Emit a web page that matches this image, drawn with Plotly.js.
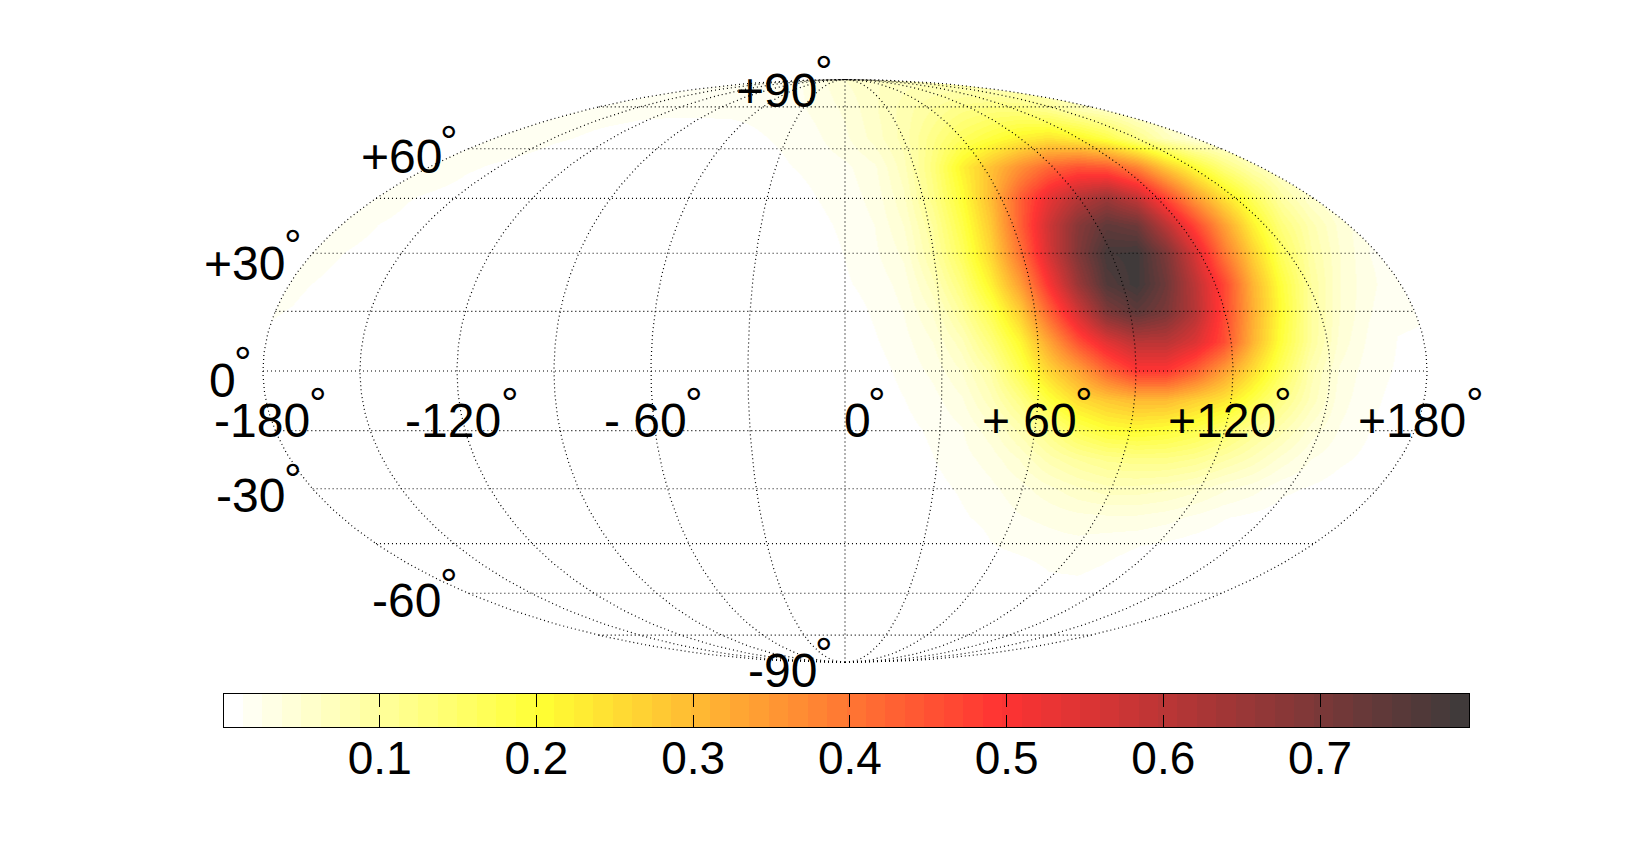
<!DOCTYPE html>
<html><head><meta charset="utf-8">
<script src="https://cdn.plot.ly/plotly-3.0.1.min.js"></script>
<style>html,body{margin:0;padding:0;background:#fff}#c{width:1634px;height:841px}</style>
</head><body><div id="c"></div>
<script>
const gridU = [-2,-1.9,-1.8,-1.7,-1.6,-1.5,-1.4,-1.3,-1.2,-1.1,-1,-.9,-.8,-.7,-.6,-.5,-.4,-.3,-.2,-.1,0,.1,.2,.3,.4,.5,.6,.7,.8,.9,1,1.1,1.2,1.3,1.4,1.5,1.6,1.7,1.8,1.9,2];
const gridV = [-1,-.9,-.8,-.7,-.6,-.5,-.4,-.3,-.2,-.1,0,.1,.2,.3,.4,.5,.6,.7,.8,.9,1];
const Z0 = [0,0,0,0,0,0,0,0,0,0,0,0,0,0,0,0,0,0,0,0];
const fieldWest = {
 "1":  [.018,.018,.018,.018,.018,.018,.018,.018,.018,.018,.018,.018,.018,.018,.018,.018,.018,.018,.02,.03],
 ".9": [.018,.018,.018,.018,.018,.018,.018,.018,.018,.018,.018,.018,.018,.016,.016,.016,.016,.016,.018,.028],
 ".8": [.02,.02,.02,.02,.02,.02,.02,.02,.02,.018,.014,.0115,.008,.006,.004,.004,.005,.011,.015,.022],
 ".7": [.025,.025,.025,.025,.025,.025,.02,.014,.011,.008,.005,.004,.003,.002,.002,.002,.003,.006,.0115,.016],
 ".6": [.025,.025,.025,.025,.02,.0135,.01,.007,.005,.003,.002,.001,.001,.001,.001,.001,.001,.002,.006,.0124],
 ".5": [.022,.022,.022,.018,.012,.008,.005,.003,.001,0,0,0,0,0,0,0,0,0,.003,.009],
 ".4": [.02,.02,.016,.011,.007,.004,.002,.001,0,0,0,0,0,0,0,0,0,0,.001,.006],
 ".3": [.017,.015,.011,.007,.004,.002,.001,0,0,0,0,0,0,0,0,0,0,0,0,.004],
 ".2": [.014,.0115,.007,.004,.002,.001,0,0,0,0,0,0,0,0,0,0,0,0,0,.001],
 ".1": [.011,.007,.004,.002,.001,0,0,0,0,0,0,0,0,0,0,0,0,0,0,0]
};
const fieldEast = {
 "1":  [.05,.06,.07,.07,.07,.06,.05,.04,.03,.03,.03,.02,.02,.02,.02,.02,.02,.02,.02,.02,.02],
 ".9": [.04,.06,.08,.10,.12,.13,.13,.11,.08,.06,.04,.03,.03,.02,.02,.02,.02,.02,.02,.02,.02],
 ".8": [.035,.055,.08,.12,.16,.19,.22,.24,.22,.18,.12,.07,.04,.03,.02,.02,.02,.02,.02,.02,.02],
 ".7": [.022,.035,.07,.13,.22,.29,.36,.42,.45,.44,.38,.28,.2,.13,.08,.05,.03,.02,.02,.02,.02],
 ".6": [.018,.03,.06,.12,.2,.3,.43,.53,.6,.64,.58,.46,.34,.24,.16,.09,.05,.03,.02,.02,.02],
 ".5": [.015,.025,.05,.1,.18,.28,.43,.57,.68,.74,.72,.6,.47,.34,.22,.13,.08,.045,.025,.02,.02],
 ".4": [.013,.022,.04,.09,.16,.26,.4,.56,.69,.78,.79,.7,.56,.4,.27,.16,.09,.05,.025,.018,.018],
 ".3": [.011,.017,.03,.07,.13,.22,.34,.5,.65,.76,.79,.72,.6,.47,.31,.19,.10,.05,.028,.017,.016],
 ".2": [.006,.014,.025,.05,.1,.17,.27,.42,.56,.69,.74,.7,.61,.47,.32,.2,.1,.05,.026,.014,.013],
 ".1": [.004,.011,.02,.037,.07,.13,.21,.33,.45,.54,.6,.6,.55,.46,.31,.19,.1,.045,.022,.012,.011],
 "0":  [.003,.007,.016,.028,.05,.09,.17,.26,.33,.42,.49,.49,.43,.34,.25,.16,.08,.035,.018,.011,.009],
 "-.1":[0,.005,.012,.02,.035,.07,.12,.19,.25,.28,.3,.3,.27,.24,.18,.12,.07,.03,.016,.008,.005],
 "-.2":[0,0,.009,.0145,.024,.045,.08,.12,.17,.2,.21,.2,.18,.15,.11,.08,.045,.024,.013,.005,.002],
 "-.3":[0,0,.006,.012,.02,.03,.05,.08,.1,.115,.12,.12,.11,.09,.07,.045,.025,.015,.009,.002,0],
 "-.4":[0,0,0,.008,.0145,.022,.032,.046,.06,.07,.07,.065,.055,.04,.03,.016,.011,.006,.002,0,0],
 "-.5":[0,0,0,0,.0105,.017,.024,.028,.033,.035,.035,.03,.022,.0135,.009,.005,.002,0,0,0,0],
 "-.6":[0,0,0,0,0,.0115,.016,.019,.02,.016,.0128,.009,.005,.002,0,0,0,0,0,0,0],
 "-.7":[0,0,0,0,0,0,.004,.0115,.0125,.0095,.005,.002,0,0,0,0,0,0,0,0,0],
 "-.8":[0,0,0,0,0,0,0,0,0,0,0,0,0,0,0,0,0,0,0,0,0],
 "-.9":[0,0,0,0,0,0,0,0,0,0,0,0,0,0,0,0,0,0,0,0,0],
 "-1": [0,0,0,0,0,0,0,0,0,0,0,0,0,0,0,0,0,0,0,0,0]
};
const rowKeys = ["-1","-.9","-.8","-.7","-.6","-.5","-.4","-.3","-.2","-.1","0",".1",".2",".3",".4",".5",".6",".7",".8",".9","1"];
const colorAnchors = [[0,[255,255,255]],[.25,[255,255,51]],[.625,[255,51,51]],[1,[64,58,58]]];
const nLevels = 64;
const zMin = 0.0003, zMax = 0.7953;
const barTicks = [.1,.2,.3,.4,.5,.6,.7];
const barTickText = ["0.1","0.2","0.3","0.4","0.5","0.6","0.7"];
const meridianLons = [-180,-150,-120,-90,-60,-30,0,30,60,90,120,150,180];
const parallelLats = [-75,-60,-45,-30,-15,0,15,30,45,60,75];
const latLabels = ["+90","+60","+30","0","-30","-60","-90"];
const lonLabels = ["-180","-120","- 60","0","+ 60","+120","+180"];
// label centres and ring centres in page pixels
const latLabelPx = [[776,90],[401,157],[244,263],[222,380],[250,496],[406,600],[782,670]];
const latRingPx  = [[824.3,71.8],[449,141.6],[292.8,245.8],[242.8,362.5],[292.8,479.2],[449,584.5],[824.3,653.2]];
const lonLabelPx = [[262,420],[453.5,420],[645,420],[857,420],[1029.5,420],[1222,420],[1412,420]];
const lonRingPx  = [[317.8,403.2],[509.6,403.2],[694,403.2],[877.4,403.2],[1083.7,403.2],[1282.8,403.2],[1474.5,403.2]];

const W=1634,H=841,CX=845,CY=371,SX=291,SY=291.5;
const z = rowKeys.map(k => (fieldWest[k]||Z0).concat(fieldEast[k]));

function levelColor(t){
  for(let i=1;i<colorAnchors.length;i++){
    const [a,ca]=colorAnchors[i-1],[b,cb]=colorAnchors[i];
    if(t<=b){const f=(t-a)/(b-a);return 'rgb('+ca.map((c,j)=>Math.round(c+(cb[j]-c)*f)).join(',')+')';}
  }
}
const colorscale=[];
for(let k=0;k<nLevels;k++){
  const col=levelColor(k/(nLevels-1));
  colorscale.push([k/nLevels,col]);colorscale.push([(k+1)/nLevels,col]);
}
function theta(latDeg){
  const p=Math.PI*Math.sin(latDeg*Math.PI/180);
  if(Math.abs(latDeg)===90)return Math.sign(latDeg)*Math.PI/2;
  let t=latDeg*Math.PI/360;
  for(let i=0;i<60;i++){t-=(2*t+Math.sin(2*t)-p)/(2+2*Math.cos(2*t));}
  return t;
}
function proj(lon,lat){const t=theta(lat);return [2*(lon/180)*Math.cos(t),Math.sin(t)];}
const gx=[],gy=[];
meridianLons.forEach(lon=>{for(let lat=-90;lat<=90;lat+=1){const p=proj(lon,lat);gx.push(p[0]);gy.push(p[1]);}gx.push(null);gy.push(null);});
parallelLats.forEach(lat=>{[-180,180].forEach(lon=>{const p=proj(lon,lat);gx.push(p[0]);gy.push(p[1]);});gx.push(null);gy.push(null);});
// white mask outside the map outline
const mx=[-2.3,2.3,2.3,-2.3,-2.3],my=[-1.2,-1.2,1.2,1.2,-1.2];
for(let a=0;a<=360;a+=1){mx.push(-2*Math.cos(a*Math.PI/180));my.push(Math.sin(a*Math.PI/180));}
mx.push(-2.3);my.push(-1.2);
const barLevelX=[],barLevelZ=[];
for(let k=0;k<nLevels;k++){const v=zMin+(k+.5)*(zMax-zMin)/nLevels;barLevelX.push(v);barLevelZ.push(v);}

const font='"Liberation Sans",Arial,sans-serif';
const ann=[];
function addLabel(text,p,size){ann.push({xref:'paper',yref:'paper',x:p[0]/W,y:1-p[1]/H,text:text,showarrow:false,xanchor:'center',yanchor:'middle',font:{family:font,size:size,color:'#000'},borderpad:0,borderwidth:0});}
latLabels.forEach((t,i)=>{addLabel(t,latLabelPx[i],48);addLabel('°',latRingPx[i],44);});
lonLabels.forEach((t,i)=>{addLabel(t,lonLabelPx[i],48);addLabel('°',lonRingPx[i],44);});

const traces=[
 {type:'heatmap',x:gridU,y:gridV,z:z,zsmooth:'best',zmin:0,zmax:zMax,colorscale:colorscale,showscale:false,hoverinfo:'skip',xaxis:'x',yaxis:'y'},
 {type:'scatter',x:mx,y:my,mode:'lines',line:{width:0,color:'#fff'},fill:'toself',fillcolor:'#fff',hoverinfo:'skip',showlegend:false,xaxis:'x',yaxis:'y'},
 {type:'scatter',x:gx,y:gy,mode:'lines',line:{width:1.2,color:'#000',dash:'1px,3px'},hoverinfo:'skip',showlegend:false,connectgaps:false,xaxis:'x',yaxis:'y'},
 {type:'heatmap',x:barLevelX,y:[0],z:[barLevelZ],zmin:0,zmax:zMax,colorscale:colorscale,showscale:false,hoverinfo:'skip',xaxis:'x2',yaxis:'y2'}
];
const layout={
 width:W,height:H,margin:{l:0,r:0,t:0,b:0,pad:0},paper_bgcolor:'#fff',plot_bgcolor:'rgba(0,0,0,0)',showlegend:false,
 xaxis:{domain:[0,1],range:[(0-CX)/SX,(W-CX)/SX],visible:false,fixedrange:true},
 yaxis:{domain:[0,1],range:[(CY-H)/SY,CY/SY],visible:false,fixedrange:true},
 xaxis2:{domain:[223.5/W,1469.4/W],range:[zMin,zMax],anchor:'y2',tickmode:'array',tickvals:barTicks,ticktext:barTickText,ticks:'inside',ticklen:12.5,tickwidth:1,tickcolor:'#000',showline:true,linecolor:'#000',linewidth:1,mirror:'allticks',showgrid:false,zeroline:false,tickfont:{family:font,size:46,color:'#000'},ticklabelstandoff:-9,fixedrange:true},
 yaxis2:{domain:[1-727/H,1-694/H],range:[-.5,.5],anchor:'x2',showticklabels:false,ticks:'',showline:true,linecolor:'#000',linewidth:1,mirror:true,showgrid:false,zeroline:false,fixedrange:true},
 annotations:ann
};
Plotly.newPlot('c',traces,layout,{staticPlot:true,displayModeBar:false});
</script></body></html>
